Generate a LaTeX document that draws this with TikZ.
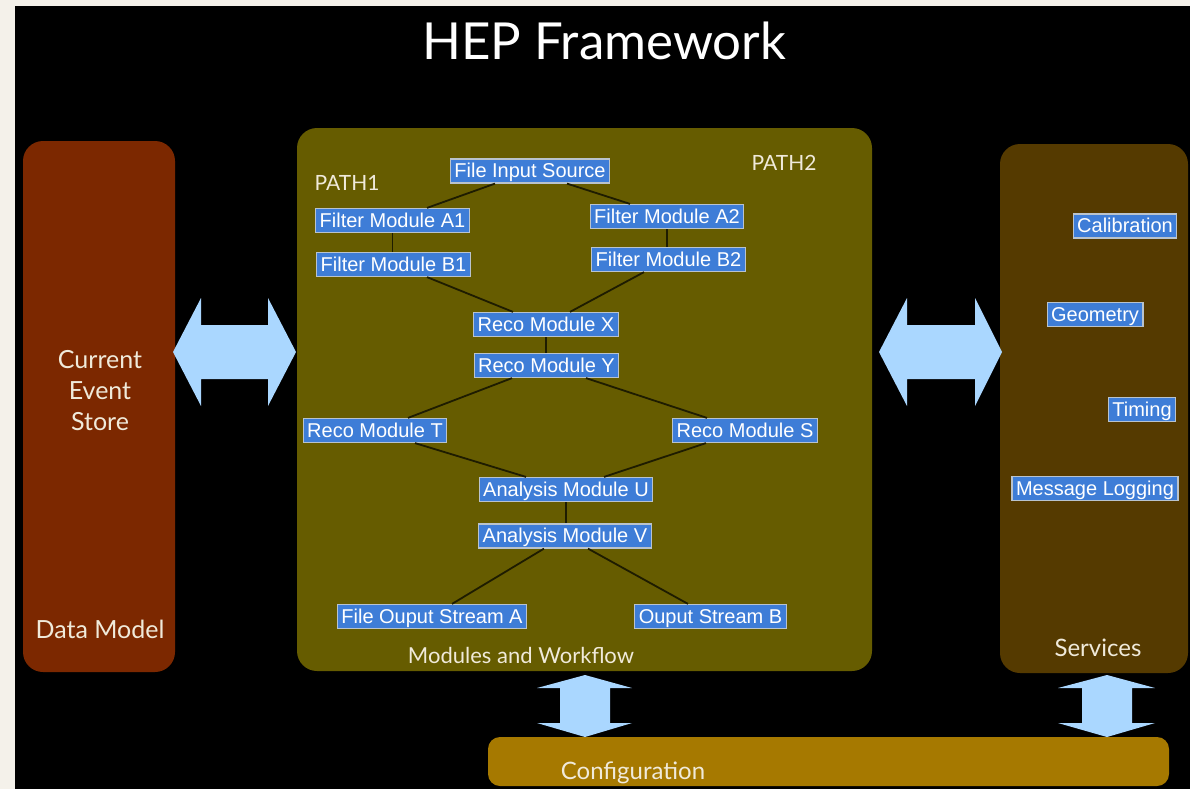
\documentclass[tikz,border=0pt]{standalone}
\usepackage{fontspec}
\setmainfont{Lato}
\newfontfamily\boxfont{Liberation Sans}
\definecolor{canvas}{RGB}{244,241,234}
\definecolor{dmcol}{RGB}{124,40,0}
\definecolor{wfcol}{RGB}{102,92,0}
\definecolor{svcol}{RGB}{85,58,0}
\definecolor{cfcol}{RGB}{166,121,0}
\definecolor{arrcol}{RGB}{170,215,255}
\definecolor{modblue}{RGB}{62,125,215}
\definecolor{modedge}{RGB}{185,195,205}
\definecolor{linkc}{RGB}{30,28,0}
\definecolor{lblc}{RGB}{240,234,218}
\begin{document}
\begin{tikzpicture}[x=1pt,y=-1pt,
  mod/.style={fill=modblue, draw=modedge, line width=1.2pt, text=white,
    font=\boxfont\fontsize{20}{22}\selectfont, inner xsep=4pt, inner ysep=0pt,
    text height=16pt, text depth=3pt, minimum height=24pt},
  link/.style={draw=linkc, line width=1.8pt},
  lbl/.style={text=lblc, align=center, inner sep=0pt},
  blockarrow/.style={fill=arrcol}]
\useasboundingbox (0,0) rectangle (1190,789);
\fill[canvas] (0,0) rectangle (1190,789);
\fill[black] (15,6) rectangle (1190,789);

% panels
\fill[dmcol, rounded corners=20pt] (23,141) rectangle (175,672);
\fill[wfcol, rounded corners=20pt] (297,128) rectangle (872,671);
\fill[svcol, rounded corners=20pt] (1000,144) rectangle (1188,673);
\fill[cfcol, rounded corners=12pt] (488,737) rectangle (1169,786);

% block arrows
\fill[blockarrow] (173,352) -- (201,298) -- (201,325) -- (268,325) -- (268,298) -- (296,352)
  -- (268,406) -- (268,379) -- (201,379) -- (201,406) -- cycle;
\fill[blockarrow] (879,352) -- (907,298) -- (907,325) -- (975,325) -- (975,298) -- (1002,352)
  -- (975,406) -- (975,379) -- (907,379) -- (907,406) -- cycle;
\fill[blockarrow] (585,675) -- (632,688) -- (610,688) -- (610,723) -- (632,723) -- (585,737)
  -- (537,723) -- (560,723) -- (560,688) -- (537,688) -- cycle;
\fill[blockarrow] (1107,675) -- (1155,688) -- (1132,688) -- (1132,723) -- (1155,723) -- (1107,737)
  -- (1058,723) -- (1082,723) -- (1082,688) -- (1058,688) -- cycle;

% title and labels
\node[text=white, font=\fontsize{51}{60}\selectfont, inner sep=0pt] (title) at (604,41) {HEP Framework};
\node[lbl, font=\fontsize{25}{31}\selectfont] (ces) at (100,391) {Current\\Event\\Store};
\node[lbl, font=\fontsize{25}{31}\selectfont] (dml) at (100,629) {Data Model};
\node[lbl, font=\fontsize{21}{25}\selectfont] (p1) at (347,183) {PATH1};
\node[lbl, font=\fontsize{21}{25}\selectfont] (p2) at (784,163) {PATH2};
\node[lbl, font=\fontsize{22}{26}\selectfont] (mwl) at (521,655) {Modules and Workflow};
\node[lbl, font=\fontsize{24}{28}\selectfont] (svl) at (1098,648) {Services};
\node[lbl, font=\fontsize{24}{28}\selectfont] (cfl) at (633,773) {Configuration};

% modules
\node[mod] (fis) at (530,171) {File Input Source};
\node[mod] (fa1) at (392.5,220.5) {Filter Module A1};
\node[mod] (fb1) at (393.5,264.5) {Filter Module B1};
\node[mod] (fa2) at (667,216.5) {Filter Module A2};
\node[mod] (fb2) at (668.5,259.5) {Filter Module B2};
\node[mod] (rx) at (546,324.5) {Reco Module X};
\node[mod] (ry) at (546.5,365.5) {Reco Module Y};
\node[mod] (rt) at (375,430.5) {Reco Module T};
\node[mod] (rs) at (745,430.5) {Reco Module S};
\node[mod] (au) at (566,489.5) {Analysis Module U};
\node[mod] (av) at (565,536) {Analysis Module V};
\node[mod] (oa) at (432,616.5) {File Ouput Stream A};
\node[mod] (ob) at (710.5,616.5) {Ouput Stream B};

% services
\node[mod] (cal) at (1125,226) {Calibration};
\node[mod] (geo) at (1095,314.5) {Geometry};
\node[mod] (tim) at (1142,409.5) {Timing};
\node[mod] (msg) at (1095,488.5) {Message Logging};

% connectors
\draw[link] ([xshift=-35pt]fis.south) -- ([xshift=34.5pt]fa1.north);
\draw[link] ([xshift=37pt]fis.south) -- ([xshift=-37pt]fa2.north);
\draw[link] (fa1.south) -- (fa1.south |- fb1.north);
\draw[link] (fa2.south) -- (fa2.south |- fb2.north);
\draw[link] ([xshift=33.5pt]fb1.south) -- ([xshift=-33pt]rx.north);
\draw[link] ([xshift=-24.5pt]fb2.south) -- ([xshift=24pt]rx.north);
\draw[link] (rx.south) -- (rx.south |- ry.north);
\draw[link] ([xshift=-34.5pt]ry.south) -- ([xshift=33pt]rt.north);
\draw[link] ([xshift=39.5pt]ry.south) -- ([xshift=-38pt]rs.north);
\draw[link] ([xshift=40pt]rt.south) -- ([xshift=-40pt]au.north);
\draw[link] ([xshift=-39pt]rs.south) -- ([xshift=38pt]au.north);
\draw[link] (au.south) -- (au.south |- av.north);
\draw[link] ([xshift=-21pt]av.south) -- ([xshift=20pt]oa.north);
\draw[link] ([xshift=23pt]av.south) -- ([xshift=-22.5pt]ob.north);
\end{tikzpicture}
\end{document}
